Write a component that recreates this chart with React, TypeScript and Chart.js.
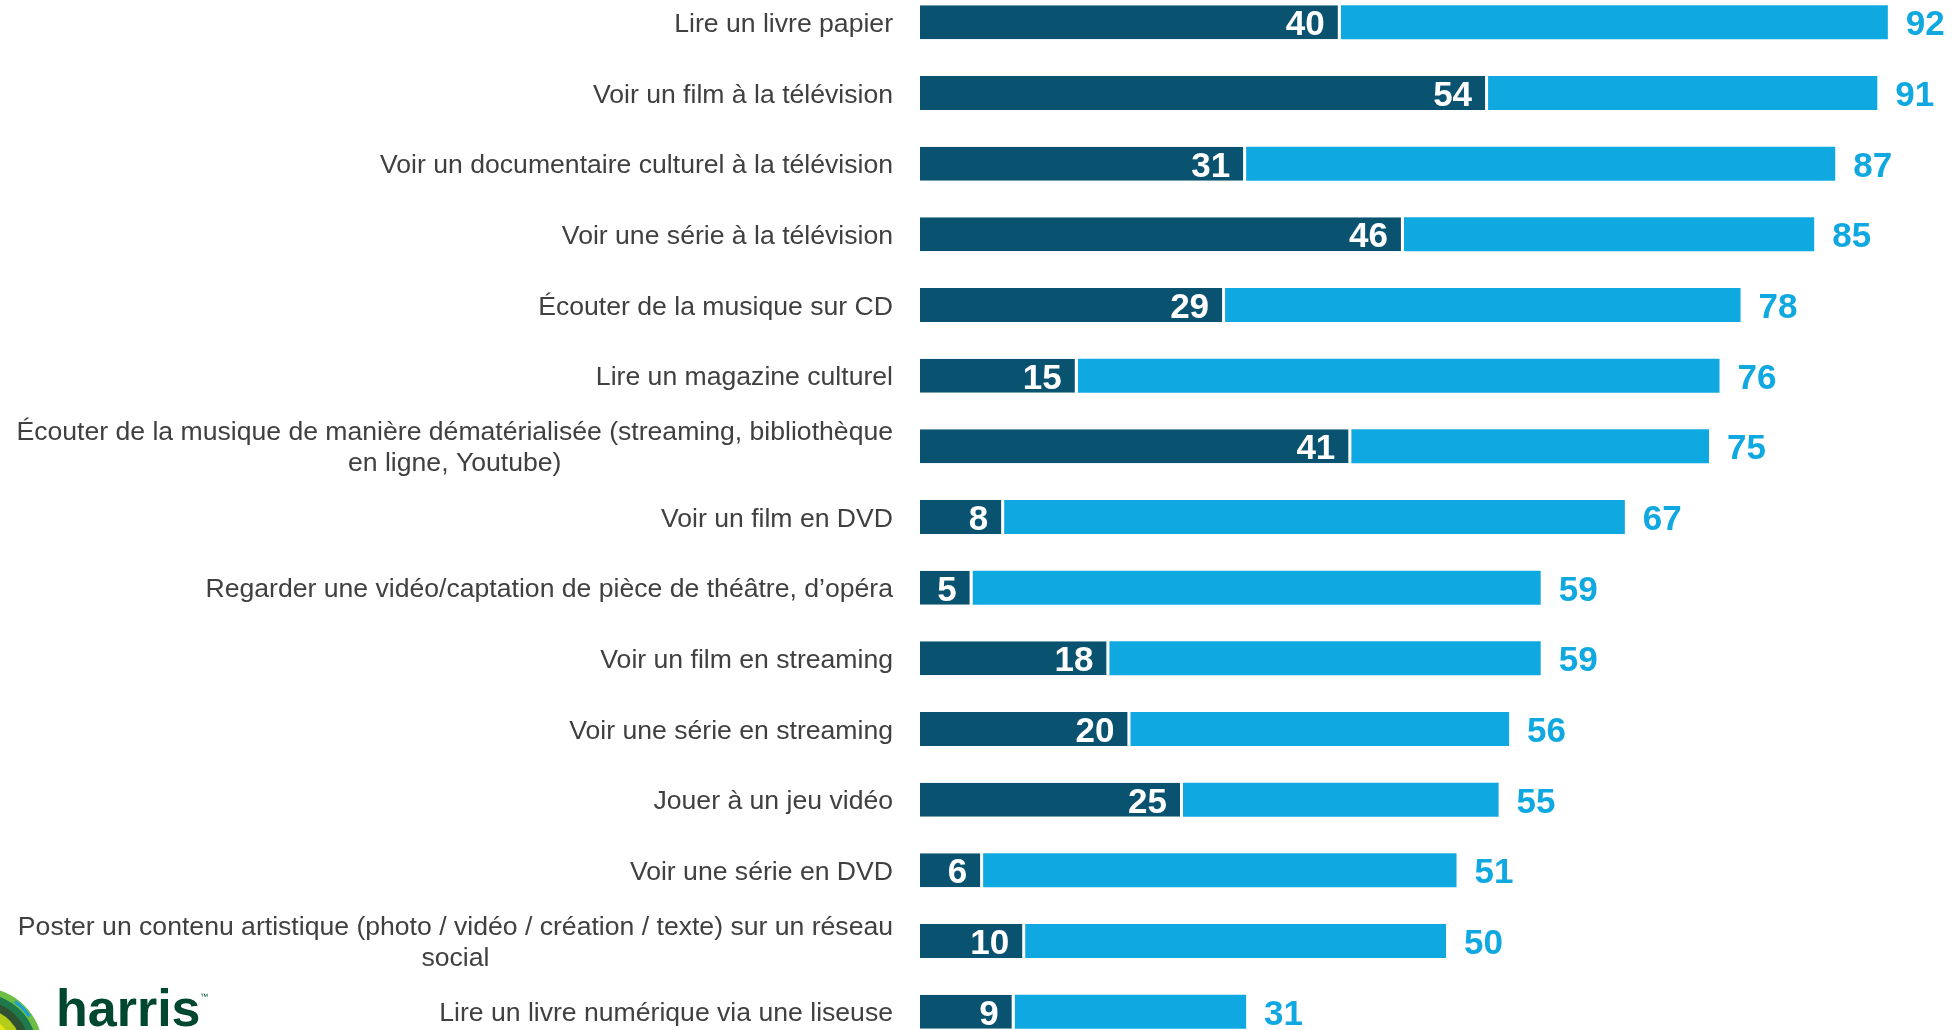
import React, { useEffect, useRef } from "react";
import { Chart, registerables } from "chart.js";

Chart.register(...registerables);

const categories: string[][] = [
  ["Lire un livre papier"],
  ["Voir un film à la télévision"],
  ["Voir un documentaire culturel à la télévision"],
  ["Voir une série à la télévision"],
  ["Écouter de la musique sur CD"],
  ["Lire un magazine culturel"],
  ["Écouter de la musique de manière dématérialisée (streaming, bibliothèque", "en ligne, Youtube)"],
  ["Voir un film en DVD"],
  ["Regarder une vidéo/captation de pièce de théâtre, d’opéra"],
  ["Voir un film en streaming"],
  ["Voir une série en streaming"],
  ["Jouer à un jeu vidéo"],
  ["Voir une série en DVD"],
  ["Poster un contenu artistique (photo / vidéo / création / texte) sur un réseau", "social"],
  ["Lire un livre numérique via une liseuse"],
];

const baseValues = [40, 54, 31, 46, 29, 15, 41, 8, 5, 18, 20, 25, 6, 10, 9];
const totalValues = [92, 91, 87, 85, 78, 76, 75, 67, 59, 59, 56, 55, 51, 50, 31];

const DARK = "#0A5370";
const LIGHT = "#10A8E0";
const TOP_OFFSET = 13.3;

const labelsPlugin = {
  id: "customLabels",
  afterDatasetsDraw(chart: any) {
    const ctx = chart.ctx as CanvasRenderingContext2D;
    const xs = chart.scales.x;
    const ys = chart.scales.y;
    ctx.save();
    // category labels
    ctx.font = "26.6px 'Liberation Sans', Arial, sans-serif";
    ctx.fillStyle = "#404040";
    categories.forEach((lines, i) => {
      const cy = ys.getPixelForValue(i);
      const widths = lines.map((l) => ctx.measureText(l).width);
      const maxW = Math.max(...widths);
      const right = 893;
      const lh = 31.2;
      lines.forEach((line, j) => {
        const offset = (j - (lines.length - 1) / 2) * lh;
        const by = cy + offset + 9.5;
        if (lines.length === 1) {
          ctx.textAlign = "right";
          ctx.fillText(line, right, by);
        } else {
          ctx.textAlign = "center";
          ctx.fillText(line, right - maxW / 2, by);
        }
      });
    });
    // value labels
    ctx.font = "bold 35px 'Liberation Sans', Arial, sans-serif";
    baseValues.forEach((v, i) => {
      const cy = ys.getPixelForValue(i);
      ctx.fillStyle = "#FFFFFF";
      ctx.textAlign = "right";
      ctx.fillText(String(v), xs.getPixelForValue(v) - 16, cy + 13);
    });
    totalValues.forEach((v, i) => {
      const cy = ys.getPixelForValue(i);
      ctx.fillStyle = LIGHT;
      ctx.textAlign = "left";
      ctx.fillText(String(v), xs.getPixelForValue(v) + 18, cy + 13);
    });
    // logo
    const oy = TOP_OFFSET;
    const cx = -20;
    const cyl = 1050 + oy;
    const rings: [number, string][] = [
      [63, "#6DBE45"],
      [57, "#1E7A4A"],
      [50, "#2F5230"],
      [42, "#B5CC18"],
      [33, "#E8E41A"],
    ];
    rings.forEach(([r, c]) => {
      ctx.beginPath();
      ctx.arc(cx, cyl, r, 0, Math.PI * 2);
      ctx.fillStyle = c;
      ctx.fill();
    });
    ctx.beginPath();
    ctx.arc(cx, cyl, 60, -0.95, -0.6);
    ctx.lineWidth = 3;
    ctx.strokeStyle = "#1AA0D8";
    ctx.stroke();
    ctx.fillStyle = "#00472F";
    ctx.textAlign = "left";
    ctx.font = "bold 52px 'Liberation Sans', Arial, sans-serif";
    ctx.fillText("harris", 56, 1026 + oy);
    ctx.font = "8px 'Liberation Sans', Arial, sans-serif";
    ctx.fillText("™", 200, 999 + oy);
    ctx.restore();
  },
};

export default function App() {
  const ref = useRef<HTMLCanvasElement>(null);
  useEffect(() => {
    if (!ref.current) return;
    const lightValues = totalValues.map((t, i) => t - baseValues[i]);
    const chart = new Chart(ref.current, {
      type: "bar",
      data: {
        labels: categories.map((c) => c.join(" ")),
        datasets: [
          {
            data: baseValues,
            backgroundColor: DARK,
            borderColor: "#FFFFFF",
            borderWidth: { right: 3, left: 0, top: 0, bottom: 0 },
            borderSkipped: false,
            barPercentage: 0.481,
            categoryPercentage: 1,
          },
          {
            data: lightValues,
            backgroundColor: LIGHT,
            borderWidth: 0,
            barPercentage: 0.481,
            categoryPercentage: 1,
          },
        ],
      },
      options: {
        indexAxis: "y",
        responsive: false,
        animation: false,
        layout: { padding: { left: 920, right: 0, top: 0, bottom: 0 } },
        plugins: { legend: { display: false }, tooltip: { enabled: false } },
        scales: {
          x: { stacked: true, display: false, min: 0, max: 100, grid: { display: false } },
          y: { stacked: true, display: false, grid: { display: false } },
        },
      },
      plugins: [labelsPlugin],
    });
    return () => chart.destroy();
  }, []);
  return (
    <div style={{ position: "fixed", left: 0, top: -TOP_OFFSET, width: 1972, height: 1060 }}>
      <canvas ref={ref} width={1972} height={1060} style={{ width: 1972, height: 1060, display: "block" }} />
    </div>
  );
}
